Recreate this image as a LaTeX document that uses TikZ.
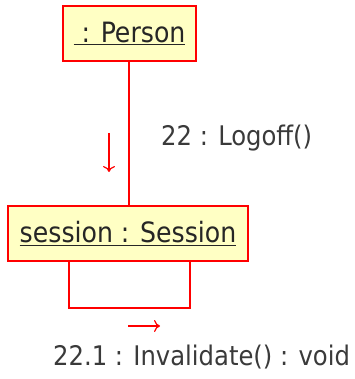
\documentclass[tikz,border=0pt]{standalone}
\usepackage{fontspec}
\setmainfont{DejaVu Sans Condensed}
\usetikzlibrary{arrows.meta}
\definecolor{boxfill}{HTML}{FFFFC4}
\definecolor{txt}{HTML}{3A3A3A}
\tikzset{
  obj/.style={draw=red, fill=boxfill, line width=1.5pt, minimum height=55pt, inner sep=0pt, text=black!85, font=\fontsize{28}{30}\selectfont},
  link/.style={draw=red, line width=1.5pt},
  msgarrow/.style={draw=red, line width=1.2pt, -{To[length=6pt,width=12pt]}},
  lbl/.style={text=txt, inner sep=0pt, font=\fontsize{27}{30}\selectfont}
}
\begin{document}
\begin{tikzpicture}[x=1pt,y=-1pt]
\useasboundingbox (0,0) rectangle (354,379);
\node[obj, minimum width=133pt] (person) at (129.5,33.5) {\underline{\ : Person}};
\node[obj, minimum width=240pt] (session) at (128,233.5) {\underline{session : Session}};
\draw[link] ([xshift=-0.5pt]person.south) -- ([xshift=-0.5pt]person.south |- session.north);
\draw[link] ([xshift=-59pt]session.south) -- ++(0,46) coordinate (lb) -| ([xshift=62pt]session.south);
\coordinate (d1) at (109,133);
\coordinate (d2) at (109,172);
\draw[msgarrow] (d1) -- (d2);
\coordinate (r1) at (128,326);
\coordinate (r2) at (160,326);
\draw[msgarrow] (r1) -- (r2);
\node[lbl, anchor=base west] (m1) at (161,146) {22 : Logoff()};
\node[lbl, anchor=base west] (m2) at (53,365) {22.1 : Invalidate() : void};
\end{tikzpicture}
\end{document}
